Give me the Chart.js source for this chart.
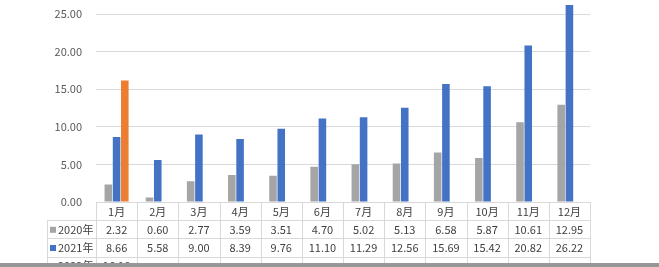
<!DOCTYPE html>
<html>
<head>
<meta charset="utf-8">
<script src="https://cdn.jsdelivr.net/npm/chart.js@4/dist/chart.umd.min.js"></script>
<style>
  html, body { margin: 0; padding: 0; background: #fff; overflow: hidden; }
  #wrap { position: relative; width: 659px; height: 267px; overflow: hidden; }
  #box { position: absolute; left: 0; top: -44px; width: 659px; height: 311px; }
  #strip { position: absolute; left: 0; bottom: 0; width: 659px; height: 4px; background: #979797; }
</style>
</head>
<body>
<div id="wrap">
  <div id="box"><canvas id="chart"></canvas></div>
  <div id="strip"></div>
</div>
<script>
const months = ["1月", "2月", "3月", "4月", "5月", "6月", "7月", "8月", "9月", "10月", "11月", "12月"];
const seriesNames = ["2020年", "2021年", "2022年"];
const values2020 = [2.32, 0.60, 2.77, 3.59, 3.51, 4.70, 5.02, 5.13, 6.58, 5.87, 10.61, 12.95];
const values2021 = [8.66, 5.58, 9.00, 8.39, 9.76, 11.10, 11.29, 12.56, 15.69, 15.42, 20.82, 26.22];
const values2022 = [16.18, null, null, null, null, null, null, null, null, null, null, null];
const colors = ["#a5a5a5", "#4472c4", "#ed7d31"];

const FONT = "'Noto Sans CJK SC', 'Noto Sans', sans-serif";

// data table under the plot, like Excel's
const tablePlugin = {
  id: "dataTable",
  afterDraw(chart) {
    const ctx = chart.ctx;
    const area = chart.chartArea;
    const xs = chart.scales.x;
    const colW = (area.right - area.left) / months.length;
    const rowH = 18.2;
    const top = area.bottom;
    const keyLeft = area.left - 49;
    const rows = [values2020, values2021, values2022];
    const bottom = top + rowH * (rows.length + 1);

    ctx.save();
    ctx.strokeStyle = "#d9d9d9";
    ctx.lineWidth = 1;
    ctx.beginPath();
    for (let i = 0; i <= months.length; i++) {
      const x = Math.round(area.left + i * colW) + 0.5;
      ctx.moveTo(x, top);
      ctx.lineTo(x, bottom);
    }
    ctx.moveTo(Math.round(keyLeft) + 0.5, top + rowH);
    ctx.lineTo(Math.round(keyLeft) + 0.5, bottom);
    for (let r = 1; r <= rows.length; r++) {
      const y = Math.round(top + r * rowH) + 0.5;
      ctx.moveTo(keyLeft, y);
      ctx.lineTo(area.right, y);
    }
    ctx.stroke();

    ctx.font = "11px " + FONT;
    ctx.fillStyle = "#404040";
    ctx.textAlign = "center";
    ctx.textBaseline = "middle";
    months.forEach((m, i) => {
      ctx.fillText(m, xs.getPixelForValue(i), top + rowH / 2 + 0.5);
    });

    rows.forEach((vals, r) => {
      const cy = top + rowH * (r + 1) + rowH / 2 + 0.5;
      ctx.fillStyle = colors[r];
      ctx.fillRect(keyLeft + 3, cy - 3, 6, 6);
      ctx.fillStyle = "#404040";
      ctx.textAlign = "left";
      ctx.fillText(seriesNames[r], keyLeft + 11, cy);
      ctx.textAlign = "center";
      vals.forEach((v, i) => {
        if (v === null) return;
        ctx.fillText(v.toFixed(2), xs.getPixelForValue(i), cy);
      });
    });
    ctx.restore();
  }
};

new Chart(document.getElementById("chart"), {
  type: "bar",
  data: {
    labels: months,
    datasets: [
      { label: seriesNames[0], data: values2020, backgroundColor: colors[0] },
      { label: seriesNames[1], data: values2021, backgroundColor: colors[1] },
      { label: seriesNames[2], data: values2022, backgroundColor: colors[2] }
    ]
  },
  options: {
    responsive: true,
    maintainAspectRatio: false,
    animation: false,
    datasets: {
      bar: { categoryPercentage: 0.6, barPercentage: 0.92 }
    },
    layout: { padding: { left: 0, right: 69, top: 0, bottom: 57 } },
    plugins: {
      legend: { display: false },
      tooltip: { enabled: false }
    },
    scales: {
      x: {
        grid: { display: false },
        border: { display: true, color: "#d9d9d9" },
        ticks: { display: false }
      },
      y: {
        min: 0,
        max: 30,
        afterFit(scale) { scale.width = 96; },
        grid: { color: "#d9d9d9", drawTicks: false },
        border: { display: false },
        ticks: {
          stepSize: 5,
          padding: 14,
          color: "#595959",
          font: { family: FONT, size: 11 },
          callback: v => v.toFixed(2)
        }
      }
    }
  },
  plugins: [tablePlugin]
});
</script>
</body>
</html>
